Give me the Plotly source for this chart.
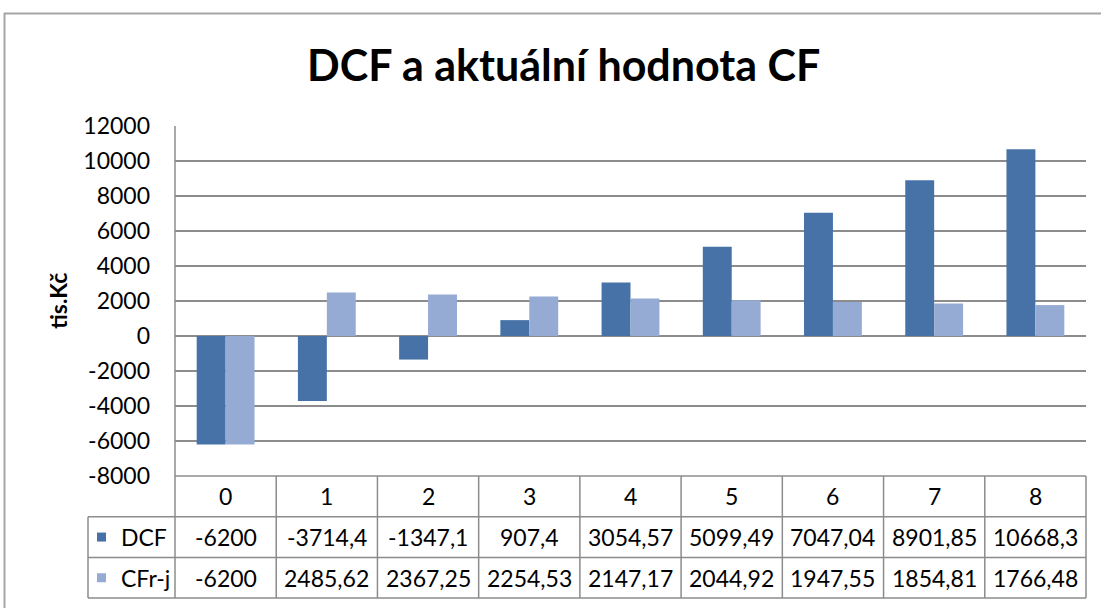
import plotly.graph_objects as go

# ---- data ----
categories = ["0", "1", "2", "3", "4", "5", "6", "7", "8"]
dcf = [-6200, -3714.4, -1347.1, 907.4, 3054.57, 5099.49, 7047.04, 8901.85, 10668.3]
cfrj = [-6200, 2485.62, 2367.25, 2254.53, 2147.17, 2044.92, 1947.55, 1854.81, 1766.48]
dcf_labels = ["-6200", "-3714,4", "-1347,1", "907,4", "3054,57", "5099,49", "7047,04", "8901,85", "10668,3"]
cfrj_labels = ["-6200", "2485,62", "2367,25", "2254,53", "2147,17", "2044,92", "1947,55", "1854,81", "1766,48"]
series_names = ["DCF", "CFr-j"]
y_ticks = [-8000, -6000, -4000, -2000, 0, 2000, 4000, 6000, 8000, 10000, 12000]
title_text = "DCF a aktuální hodnota CF"
y_title = "tis.Kč"

# ---- style ----
W, H = 1101, 608
ML, MR, MT, MB = 175, 15, 126, 132
PW = W - ML - MR
PH = H - MT - MB
colors = ["#4672A8", "#95ABD4"]
grid = "#8C8C8C"
FONT = "Lato, 'Open Sans', sans-serif"
fs = 23

def px_x(p):
    return (p - ML) / PW

def px_y(p):
    return (H - MB - p) / PH

fig = go.Figure()
fig.add_trace(go.Bar(x=categories, y=dcf, name=series_names[0], marker=dict(color=colors[0], line=dict(width=0))))
fig.add_trace(go.Bar(x=categories, y=cfrj, name=series_names[1], marker=dict(color=colors[1], line=dict(width=0))))

n = len(categories)
shapes = []
annotations = []
row_h = 40.7
rows_top = H - MB  # pixel where table starts
line = dict(color=grid, width=1.5)

# horizontal table lines
for k in range(4):
    py = rows_top + k * row_h
    x0 = 0 if k == 0 else px_x(88)
    shapes.append(dict(type="line", xref="paper", yref="paper", x0=x0, x1=1, y0=px_y(py), y1=px_y(py), line=line))
# vertical table lines
for i in range(n + 1):
    shapes.append(dict(type="line", xref="paper", yref="paper", x0=i / n, x1=i / n,
                       y0=px_y(rows_top), y1=px_y(rows_top + 3 * row_h), line=line))
shapes.append(dict(type="line", xref="paper", yref="paper", x0=px_x(88), x1=px_x(88),
                   y0=px_y(rows_top + row_h), y1=px_y(rows_top + 3 * row_h), line=line))
# y axis line
shapes.append(dict(type="line", xref="paper", yref="paper", x0=0, x1=0, y0=0, y1=1, line=line))
# outer chart border
border = dict(color="#A6A6A6", width=2)
shapes.append(dict(type="line", xref="paper", yref="paper", x0=px_x(4), x1=px_x(W + 5), y0=px_y(13.5), y1=px_y(13.5), line=border))
shapes.append(dict(type="line", xref="paper", yref="paper", x0=px_x(4.5), x1=px_x(4.5), y0=px_y(13), y1=px_y(H + 5), line=border))

tfont = dict(family=FONT, size=fs, color="#000000")
for i, c in enumerate(categories):
    xc = (i + 0.5) / n
    annotations.append(dict(text=c, x=xc, y=px_y(rows_top + row_h * 0.5), xref="paper", yref="paper",
                            showarrow=False, font=tfont, xanchor="center", yanchor="middle"))
    annotations.append(dict(text=dcf_labels[i], x=xc, y=px_y(rows_top + row_h * 1.5), xref="paper", yref="paper",
                            showarrow=False, font=tfont, xanchor="center", yanchor="middle"))
    annotations.append(dict(text=cfrj_labels[i], x=xc, y=px_y(rows_top + row_h * 2.5), xref="paper", yref="paper",
                            showarrow=False, font=tfont, xanchor="center", yanchor="middle"))

for k, name in enumerate(series_names):
    cy = rows_top + row_h * (1.5 + k)
    shapes.append(dict(type="rect", xref="paper", yref="paper", x0=px_x(97), x1=px_x(106),
                       y0=px_y(cy + 4.5), y1=px_y(cy - 4.5), fillcolor=colors[k], line=dict(width=0)))
    annotations.append(dict(text=name, x=px_x(119), y=px_y(cy), xref="paper", yref="paper",
                            showarrow=False, font=tfont, xanchor="left", yanchor="middle"))

annotations.append(dict(text="<b>" + title_text + "</b>", x=px_x(563), y=px_y(65), xref="paper", yref="paper",
                        showarrow=False, font=dict(family=FONT, size=43, color="#000000"),
                        xanchor="center", yanchor="middle"))
annotations.append(dict(text="<b>" + y_title + "</b>", x=px_x(58), y=0.5, xref="paper", yref="paper",
                        showarrow=False, textangle=-90, font=dict(family=FONT, size=23, color="#000000"),
                        xanchor="center", yanchor="middle"))

fig.update_layout(
    width=W, height=H,
    margin=dict(l=ML, r=MR, t=MT, b=MB),
    paper_bgcolor="white", plot_bgcolor="white",
    barmode="group", bargap=1.5 / 3.5, bargroupgap=0,
    showlegend=False,
    font=dict(family=FONT, size=fs, color="#000000"),
    xaxis=dict(showticklabels=False, showgrid=False, zeroline=False, showline=False, ticks="",
               range=[-0.5, n - 0.5], fixedrange=True),
    yaxis=dict(range=[-8000, 12000], tickvals=y_ticks, ticktext=[str(v) for v in y_ticks],
               showgrid=True, gridcolor=grid, gridwidth=1.5,
               zeroline=True, zerolinecolor=grid, zerolinewidth=1.5, showline=False, ticks="",
               ticklabelstandoff=24, tickfont=dict(family=FONT, size=fs, color="#000000")),
    shapes=shapes, annotations=annotations,
)

fig.write_html("out.html", config={"displayModeBar": False},
               post_script="document.body.style.margin='0';document.body.style.overflow='hidden';")
